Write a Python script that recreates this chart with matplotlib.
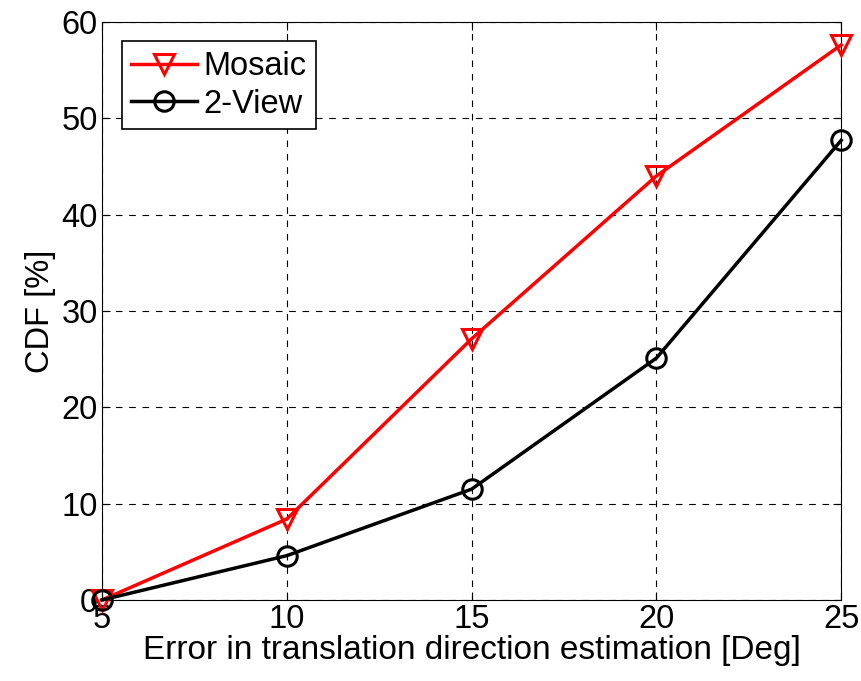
import matplotlib.pyplot as plt

plt.rcParams['font.family'] = ['Liberation Sans', 'DejaVu Sans']

error_deg = [5, 10, 15, 20, 25]
mosaic_cdf = [0, 8.4, 27.1, 44.0, 57.6]
twoview_cdf = [0, 4.6, 11.5, 25.1, 47.7]

fig = plt.figure(figsize=(8.61, 6.81), dpi=100)
ax = fig.add_axes([0.1185, 0.119, 0.8585, 0.849])

ax.plot(error_deg, mosaic_cdf, color="red", lw=2.5, marker="v", ms=15,
        mfc="none", mew=2.2, label="Mosaic", clip_on=False, zorder=3)
ax.plot(error_deg, twoview_cdf, color="black", lw=2.5, marker="o", ms=14,
        mfc="none", mew=2.2, label="2-View", clip_on=False, zorder=3)

ax.set_xlim(5, 25)
ax.set_ylim(0, 60)
ax.set_xticks(error_deg)
ax.set_yticks(range(0, 61, 10))
ax.grid(True, linestyle=(0, (6, 6)), color="black", lw=0.8)
ax.tick_params(direction="in", top=True, right=True, labelsize=23.5, length=6, pad=3)
ax.set_xlabel("Error in translation direction estimation [Deg]", fontsize=24, labelpad=0)
ax.set_ylabel("CDF [%]", fontsize=23.5, labelpad=4)

leg = ax.legend(loc="upper left", fontsize=23.5, fancybox=False, framealpha=1,
                edgecolor="black", borderaxespad=0.6, handlelength=2.0,
                handletextpad=0.2, borderpad=0.3, labelspacing=0.2)
leg.get_frame().set_linewidth(1.2)

fig.savefig("out.png", dpi=100)
